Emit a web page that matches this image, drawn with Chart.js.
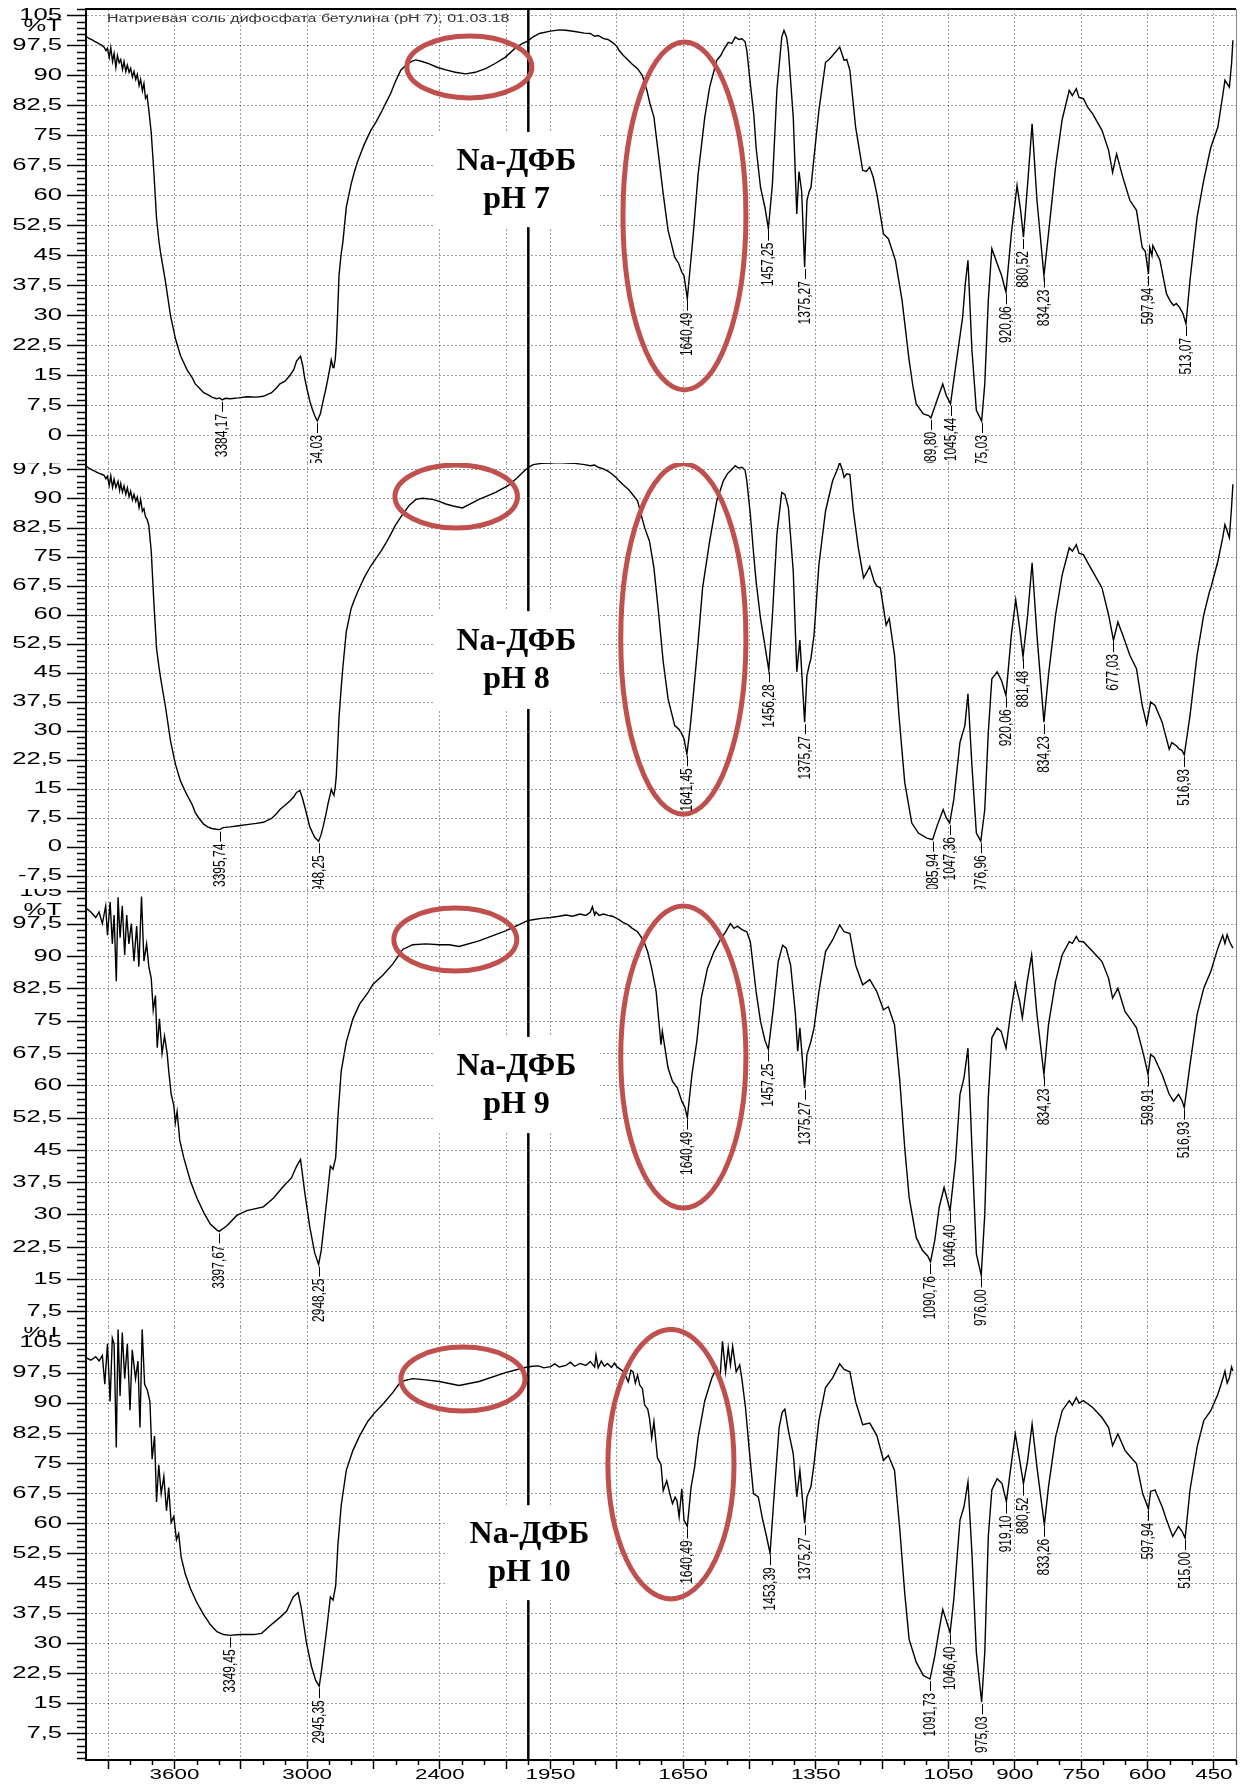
<!DOCTYPE html>
<html>
<head>
<meta charset="utf-8">
<script src="https://cdn.jsdelivr.net/npm/chart.js@4.4.1/dist/chart.umd.min.js"></script>
<style>
  html, body { margin: 0; padding: 0; background: #fff; }
  #wrap { position: relative; width: 1248px; height: 1787px; overflow: hidden; background: #fff; }
  #wrap canvas { position: absolute; left: 0; }
</style>
</head>
<body>
<div id="wrap">
  <canvas id="ph7" width="1248" height="463" style="top:0px"></canvas>
  <canvas id="ph8" width="1248" height="426" style="top:463px"></canvas>
  <canvas id="ph9" width="1248" height="438" style="top:889px"></canvas>
  <canvas id="ph10" width="1248" height="460" style="top:1327px"></canvas>
</div>
<script>
// wavenumber (cm-1) / transmittance (%T)
const spectrumPH7 = [
  [3996,99.7],[3985,99.2],[3975,99.0],[3963,98.6],[3950,98.2],[3940,97.9],[3930,97.6],[3918,97.1],[3910,96.2],[3903,96.8],
  [3895,94.5],[3888,97.0],[3880,93.5],[3873,95.5],[3865,92.0],[3858,95.0],[3850,93.2],[3843,94.0],[3835,91.5],[3828,93.5],
  [3820,91.0],[3813,92.6],[3805,90.8],[3798,91.8],[3790,89.6],[3783,91.0],[3775,89.0],[3768,90.3],[3760,87.5],[3753,89.0],
  [3745,86.2],[3738,88.0],[3731,84.3],[3724,85.0],[3716,81.4],[3705,75.7],[3693,65.7],[3681,54.3],[3670,48.5],[3663,45.7],
  [3641,38.6],[3618,30.0],[3596,24.3],[3573,20.0],[3543,16.4],[3520,14.5],[3506,12.9],[3490,12.0],[3468,10.7],[3450,10.2],
  [3431,9.6],[3410,9.2],[3395,9.4],[3384.17,8.9],[3370,9.3],[3348,9.2],[3310,9.4],[3273,9.7],[3230,9.6],[3198,9.8],
  [3161,10.7],[3140,11.8],[3123,12.9],[3100,13.6],[3078,15.0],[3060,16.5],[3048,18.6],[3030,19.8],[3020,17.5],[3011,14.3],
  [2998,11.0],[2988,8.6],[2975,6.3],[2966,5.0],[2954.03,3.6],[2940,5.5],[2928,8.6],[2915,11.8],[2906,14.3],[2895,17.5],
  [2891,18.9],[2883,17.0],[2879,17.1],[2873,19.0],[2868,22.9],[2862,31.0],[2856,40.0],[2847,45.0],[2838,48.6],[2823,57.1],
  [2801,62.9],[2786,66.0],[2771,68.6],[2741,72.9],[2711,76.4],[2690,78.2],[2666,80.7],[2640,83.6],[2621,85.7],[2600,88.6],
  [2576,91.4],[2546,92.9],[2525,93.6],[2508,93.9],[2480,93.5],[2448,92.9],[2410,92.0],[2373,91.4],[2330,90.8],[2283,90.4],
  [2240,90.8],[2193,91.7],[2150,93.0],[2103,94.6],[2058,96.9],[2030,97.9],[2003,98.6],
  [1990,99.6],[1975,100.5],[1950,101.1],[1930,101.4],[1915,101.3],[1895,101.0],[1873,100.6],[1860,100.5],[1850,99.8],[1842,100.0],
  [1830,99.2],[1820,99.0],[1810,98.3],[1800,97.3],[1795,96.3],[1785,95.0],[1774,93.8],[1765,92.8],[1753,91.7],[1742,90.0],
  [1737,88.0],[1732,86.3],[1725,83.0],[1716,79.6],[1705,69.6],[1695,60.4],[1684,51.3],[1669,44.6],[1660,43.0],[1653,40.8],
  [1648,40.0],[1640.49,34.2],[1634,42.0],[1627,50.4],[1616,65.4],[1601,79.6],[1590,87.1],[1574,93.8],[1565,95.0],[1559,96.3],
  [1548,98.3],[1540,98.0],[1532,99.6],[1524,99.0],[1517,99.2],[1510,98.5],[1506,96.3],[1498,87.9],[1490,80.0],[1485,72.0],
  [1475,62.0],[1465,57.0],[1457.25,51.7],[1448,63.0],[1438,86.3],[1427,99.6],[1422,101.3],[1416,99.5],[1412,96.3],[1401,79.6],
  [1393,55.4],[1388,66.0],[1382,61.0],[1375.27,42.1],[1370,58.8],[1365,61.0],[1361,62.0],[1354,69.6],[1343,81.3],[1328,93.3],
  [1320,94.0],[1312,95.0],[1296,97.1],[1286,93.8],[1280,94.0],[1273,91.3],[1260,77.1],[1244,66.3],[1236,66.0],[1228,67.1],
  [1220,64.5],[1212,60.4],[1197,50.4],[1186,49.2],[1170,43.8],[1155,33.8],[1139,18.8],[1130,12.0],[1123,7.9],[1107,5.4],
  [1095,5.0],[1089.8,4.4],[1076,8.8],[1063,12.9],[1055,10.0],[1045.44,7.9],[1034,17.1],[1018,29.6],[1012,38.0],[1006,43.8],
  [997,21.3],[987,6.3],[975.03,3.6],[968,12.9],[960,33.8],[952,46.7],[940,43.0],[930,40.0],[920.06,35.8],[908,50.4],
  [895,62.5],[887,56.3],[880.52,49.6],[871,63.0],[861,77.9],[850,58.8],[834.23,40.0],[824,50.4],[808,67.1],[793,79.0],
  [777,86.3],[770,85.0],[761,86.7],[755,84.5],[745,84.2],[735,82.0],[724,80.4],[703,76.3],[688,71.3],[679,65.8],
  [670,70.4],[656,64.6],[640,58.8],[625,56.3],[612,47.0],[605,46.0],[597.94,40.4],[595,47.0],[590,45.0],[588,47.5],
  [572,43.8],[557,35.4],[548,33.5],[541,32.5],[535,33.0],[528,32.1],[520,30.5],[513.07,27.9],[504,38.8],[488,54.6],
  [473,63.8],[460,70.5],[457,72.0],[441,77.1],[430,85.0],[425,88.8],[415,87.1],[410,93.0],[407,98.8]
];
const spectrumPH8 = [
  [3996,98.4],[3985,97.9],[3975,97.6],[3963,97.3],[3950,96.9],[3940,96.6],[3930,96.4],[3918,96.1],[3910,95.2],[3903,95.9],
  [3895,93.5],[3888,96.0],[3880,93.0],[3873,95.1],[3865,93.0],[3855,94.6],[3848,92.2],[3843,94.0],[3835,91.8],[3828,93.4],
  [3820,91.2],[3813,92.9],[3805,90.6],[3798,92.0],[3790,89.8],[3783,91.2],[3775,89.4],[3768,90.5],[3760,87.8],[3753,89.9],
  [3745,86.8],[3738,87.5],[3731,85.4],[3724,84.8],[3716,83.2],[3705,76.5],[3693,63.2],[3681,51.3],[3670,46.5],[3663,43.8],
  [3641,36.4],[3618,27.5],[3596,21.5],[3573,17.1],[3543,13.4],[3520,11.0],[3506,8.9],[3490,7.5],[3468,5.9],[3450,5.2],
  [3431,4.8],[3410,4.6],[3395.74,4.5],[3380,5.0],[3348,5.2],[3310,5.5],[3273,5.8],[3230,6.1],[3198,6.4],[3161,7.4],
  [3140,8.5],[3123,9.7],[3100,10.8],[3078,11.9],[3060,13.0],[3048,14.1],[3033,14.6],[3022,12.8],[3011,10.4],[2998,7.5],
  [2988,5.2],[2975,3.6],[2966,2.5],[2948.25,1.5],[2938,3.0],[2928,5.2],[2915,8.5],[2906,11.1],[2895,13.8],[2891,14.9],
  [2883,13.8],[2879,13.4],[2873,15.5],[2868,18.6],[2862,26.0],[2856,33.4],[2847,40.5],[2838,46.8],[2823,55.7],[2801,61.7],
  [2786,64.0],[2771,66.1],[2741,69.8],[2711,72.8],[2690,74.5],[2666,76.5],[2640,79.0],[2621,81.0],[2600,83.3],[2576,85.4],
  [2538,88.4],[2508,89.9],[2478,90.2],[2433,89.9],[2400,89.3],[2373,88.7],[2340,88.2],[2298,87.7],[2260,88.8],[2223,89.9],
  [2185,90.8],[2148,91.7],[2110,92.9],[2088,93.6],[2050,95.5],[2020,97.2],[2003,98.0],
  [1995,98.5],[1989,98.9],[1970,99.2],[1950,99.3],[1930,99.4],[1915,99.3],[1895,99.2],[1873,98.9],[1860,98.6],[1850,98.8],
  [1842,98.2],[1830,97.8],[1820,97.2],[1810,96.4],[1800,95.4],[1795,94.7],[1785,93.6],[1774,92.5],[1765,91.3],[1753,89.5],
  [1745,86.0],[1737,82.6],[1726,79.1],[1716,72.2],[1705,60.0],[1695,47.9],[1684,38.3],[1669,31.4],[1660,30.5],[1655,29.7],
  [1648,28.0],[1641.45,24.0],[1634,31.0],[1627,39.2],[1616,53.1],[1606,67.0],[1590,79.1],[1574,89.5],[1559,94.7],[1550,96.5],
  [1543,97.3],[1532,98.6],[1525,98.0],[1517,98.2],[1510,97.5],[1506,94.7],[1498,86.0],[1490,75.0],[1485,68.7],[1475,59.1],
  [1465,52.0],[1456.28,45.7],[1448,60.0],[1438,80.8],[1427,91.7],[1420,91.2],[1412,87.8],[1401,71.3],[1393,45.3],[1386,53.5],
  [1375.27,32.3],[1370,44.4],[1365,47.0],[1361,48.7],[1354,54.8],[1343,73.0],[1328,86.9],[1312,94.7],[1300,98.0],[1296,99.5],
  [1290,97.5],[1286,95.6],[1280,96.5],[1273,96.3],[1265,86.9],[1254,77.4],[1242,69.6],[1235,71.0],[1228,72.6],[1218,68.7],
  [1212,67.5],[1204,67.0],[1191,57.4],[1184,59.1],[1172,49.6],[1162,34.0],[1149,16.7],[1133,6.2],[1118,3.6],[1099,2.3],
  [1085.94,1.9],[1076,5.4],[1062,9.7],[1055,7.5],[1047.36,6.2],[1038,12.3],[1024,27.1],[1013,31.4],[1006,39.6],[997,21.0],
  [987,3.6],[976.96,1.5],[968,9.7],[960,29.7],[952,43.5],[945,44.5],[940,45.3],[930,43.0],[920.06,39.2],[908,54.8],
  [898,63.9],[889,56.5],[881.48,49.2],[871,60.0],[861,73.5],[850,54.8],[834.23,32.3],[824,44.4],[808,60.0],[793,70.4],
  [777,77.4],[770,76.5],[761,78.2],[755,76.0],[745,75.6],[735,73.5],[724,71.3],[703,67.0],[688,60.0],[677.03,53.5],
  [667,58.2],[660,56.0],[656,54.8],[640,49.6],[625,46.1],[612,36.6],[602,31.8],[593,37.5],[583,36.6],[567,32.3],
  [551,25.3],[545,27.0],[535,26.2],[528,25.3],[522,25.0],[516.93,23.8],[504,34.0],[488,49.6],[473,60.0],[460,66.0],
  [457,67.0],[441,73.9],[430,80.0],[425,83.4],[415,80.0],[410,88.0],[407,93.8]
];
const spectrumPH9 = [
  [3996,101.0],[3978,100.3],[3956,99.0],[3941,100.3],[3926,97.6],[3911,101.7],[3903,94.9],[3891,102.6],[3881,92.9],[3873,99.6],
  [3863,84.2],[3855,103.7],[3846,94.3],[3836,101.7],[3825,90.3],[3816,99.6],[3806,92.9],[3795,97.6],[3783,88.9],[3771,97.0],
  [3761,87.6],[3749,103.9],[3738,88.9],[3726,92.9],[3716,87.6],[3705,84.9],[3696,77.5],[3686,80.9],[3678,68.8],[3668,75.5],
  [3656,67.5],[3645,71.5],[3633,67.5],[3626,63.4],[3615,58.1],[3603,55.4],[3596,51.4],[3588,54.0],[3576,47.3],[3558,43.3],
  [3528,37.9],[3498,33.9],[3468,30.6],[3438,27.9],[3408,26.5],[3397.67,26.2],[3363,27.5],[3318,29.9],[3273,31.0],[3198,31.9],
  [3153,33.9],[3108,36.6],[3071,38.6],[3048,41.3],[3030,42.9],[3011,35.3],[2988,27.2],[2966,21.2],[2948.25,18.5],[2936,21.9],
  [2913,32.6],[2895,41.3],[2883,40.6],[2871,43.3],[2861,52.7],[2846,63.4],[2823,70.1],[2793,75.5],[2763,78.9],[2726,81.5],
  [2703,83.5],[2658,85.6],[2613,88.2],[2568,91.6],[2523,92.7],[2463,92.9],[2403,92.7],[2358,92.7],[2313,92.3],[2223,93.6],
  [2103,95.9],[2003,98.3],
  [1990,98.5],[1970,98.8],[1950,99.0],[1930,99.3],[1915,99.6],[1900,99.3],[1883,99.8],[1870,99.5],[1860,100.2],[1855,101.5],
  [1850,99.6],[1847,100.3],[1840,99.5],[1830,99.8],[1820,99.5],[1810,99.3],[1795,98.5],[1785,97.8],[1774,97.3],[1765,96.5],
  [1753,95.7],[1745,94.5],[1737,93.0],[1730,91.0],[1721,87.2],[1711,81.8],[1700,69.5],[1697,72.6],[1684,64.1],[1674,61.0],
  [1663,59.5],[1653,56.4],[1646,55.0],[1640.49,52.6],[1630,62.6],[1619,70.3],[1609,80.3],[1595,87.2],[1580,91.1],[1564,94.2],
  [1555,95.5],[1543,97.6],[1535,96.5],[1527,97.0],[1517,96.2],[1506,95.7],[1498,93.4],[1485,81.8],[1475,74.9],[1465,70.5],
  [1457.25,68.4],[1446,78.0],[1435,88.8],[1425,92.6],[1417,91.9],[1407,88.0],[1396,76.5],[1391,68.0],[1386,73.4],[1375.27,59.5],
  [1370,67.2],[1361,70.3],[1354,73.4],[1343,81.8],[1328,91.1],[1312,93.8],[1296,97.3],[1286,95.7],[1273,95.3],[1260,88.0],
  [1244,83.4],[1228,84.6],[1212,81.8],[1197,77.6],[1186,78.3],[1172,74.1],[1160,61.0],[1149,45.6],[1139,34.1],[1123,24.8],
  [1109,21.8],[1097,20.5],[1090.76,19.1],[1081,24.1],[1071,31.8],[1060,36.4],[1046.4,31.0],[1034,42.6],[1024,58.0],[1015,61.8],
  [1006,68.7],[997,45.6],[987,21.0],[976.0,16.0],[968,30.2],[960,57.2],[952,71.1],[940,73.4],[931,72.6],[920,68.7],
  [910,76.5],[899,83.8],[889,79.5],[883,75.7],[872,84.2],[862,90.3],[850,76.5],[834.23,62.6],[824,74.1],[808,84.2],
  [793,90.3],[777,93.4],[770,93.0],[761,94.6],[755,93.5],[745,93.4],[724,91.1],[703,88.8],[688,84.9],[679,80.3],
  [667,82.6],[651,77.2],[635,74.9],[625,73.4],[609,67.2],[598.91,62.6],[593,67.2],[585,66.6],[567,62.6],[551,58.0],
  [541,56.4],[530,58.0],[522,56.5],[516.93,54.9],[504,64.9],[488,76.5],[473,82.6],[457,86.5],[441,91.9],[430,94.9],
  [425,93.0],[420,95.0],[415,93.5],[407,91.9]
];
const spectrumPH10 = [
  [3996,101.2],[3978,100.7],[3956,101.6],[3941,100.5],[3926,101.9],[3915,94.7],[3903,104.8],[3891,90.4],[3881,106.2],[3873,104.8],
  [3863,78.9],[3855,108.4],[3846,91.8],[3836,107.6],[3825,96.1],[3813,104.8],[3801,88.2],[3791,103.3],[3776,96.1],[3765,100.5],
  [3756,83.9],[3746,108.4],[3735,94.7],[3723,93.3],[3711,90.4],[3701,76.0],[3690,81.8],[3681,65.3],[3671,74.6],[3660,67.4],
  [3648,71.7],[3636,63.1],[3626,68.9],[3615,60.2],[3603,61.7],[3591,55.9],[3581,57.4],[3570,51.6],[3551,47.3],[3528,43.7],
  [3498,40.1],[3468,37.2],[3438,34.7],[3408,32.9],[3378,32.2],[3349.45,32.0],[3303,32.2],[3243,32.2],[3206,32.5],[3168,34.4],
  [3123,36.5],[3093,38.0],[3063,41.6],[3041,42.7],[3026,38.7],[3003,30.1],[2981,24.3],[2961,20.7],[2945.35,19.3],[2936,22.9],
  [2913,32.9],[2895,41.6],[2883,40.8],[2871,44.4],[2861,54.5],[2846,64.5],[2823,73.2],[2793,78.2],[2763,81.8],[2726,85.4],
  [2696,87.5],[2658,89.7],[2613,92.6],[2576,95.4],[2523,96.1],[2463,95.8],[2403,95.4],[2313,94.4],[2223,95.4],[2103,97.6],
  [2028,98.7],[2003,99.0],
  [1990,99.2],[1977,99.3],[1965,98.8],[1950,99.1],[1940,99.8],[1930,99.0],[1915,99.4],[1905,100.2],[1895,99.2],[1883,99.9],
  [1870,99.4],[1860,100.4],[1850,99.0],[1847,102.0],[1842,98.8],[1835,100.5],[1828,99.2],[1821,99.9],[1812,98.9],[1805,100.0],
  [1800,99.1],[1790,98.3],[1784,97.8],[1774,95.3],[1768,98.2],[1763,97.8],[1758,95.0],[1753,97.0],[1748,94.5],[1742,93.6],
  [1737,89.5],[1730,88.5],[1726,86.2],[1721,81.3],[1716,85.4],[1708,76.3],[1700,74.7],[1695,68.1],[1687,70.6],[1680,67.3],
  [1674,64.9],[1668,66.5],[1664,65.7],[1659,61.6],[1653,68.6],[1648,60.8],[1640.49,59.2],[1632,69.0],[1624,74.0],[1616,81.5],
  [1601,90.6],[1585,96.3],[1574,98.8],[1567,95.6],[1561,105.4],[1554,97.8],[1548,103.8],[1543,99.5],[1538,104.2],[1530,97.8],
  [1522,99.5],[1517,95.9],[1509,88.9],[1501,79.0],[1491,67.4],[1480,66.6],[1470,60.8],[1462,57.0],[1453.39,52.5],[1443,69.0],
  [1433,83.9],[1426,87.7],[1420,88.5],[1412,83.1],[1401,77.3],[1393,66.6],[1386,73.2],[1375.27,60.0],[1370,66.6],[1361,69.1],
  [1354,74.9],[1343,85.6],[1328,93.9],[1312,96.3],[1296,99.8],[1286,98.4],[1273,97.8],[1260,90.4],[1244,84.6],[1228,85.0],
  [1212,81.9],[1197,75.7],[1186,76.9],[1172,73.2],[1160,58.3],[1149,42.6],[1139,31.0],[1123,25.3],[1107,22.0],[1091.73,21.1],
  [1081,26.9],[1071,33.5],[1063,38.5],[1046.4,32.7],[1038,41.0],[1024,60.8],[1015,64.1],[1006,70.3],[997,52.5],[987,27.7],
  [975.03,15.3],[968,27.7],[960,56.7],[952,68.3],[940,71.1],[929,69.9],[919.1,65.4],[910,73.2],[899,82.3],[889,75.7],
  [880.52,69.9],[871,75.7],[861,84.8],[850,74.0],[833.26,59.6],[824,69.0],[808,81.5],[793,88.1],[777,90.6],[770,89.5],
  [761,91.4],[755,90.0],[745,90.6],[724,88.9],[703,86.4],[688,83.9],[679,79.4],[667,82.3],[651,78.2],[635,76.1],
  [625,74.9],[611,67.4],[597.94,63.6],[593,68.0],[583,68.3],[567,64.1],[557,60.8],[543,56.7],[530,59.2],[522,58.0],
  [515.0,56.3],[504,68.3],[488,79.0],[473,85.6],[457,88.1],[441,92.2],[430,96.0],[425,98.0],[420,95.0],[415,96.3],
  [410,99.0],[407,98.0]
];

// labelled absorption maxima, cm-1
const peaksPH7 = [3384.17, 2954.03, 1640.49, 1457.25, 1375.27, 1089.80, 1045.44, 975.03, 920.06, 880.52, 834.23, 597.94, 513.07];
const peaksPH8 = [3395.74, 2948.25, 1641.45, 1456.28, 1375.27, 1085.94, 1047.36, 976.96, 920.06, 881.48, 834.23, 677.03, 516.93];
const peaksPH9 = [3397.67, 2948.25, 1640.49, 1457.25, 1375.27, 1090.76, 1046.40, 976.00, 834.23, 598.91, 516.93];
const peaksPH10 = [3349.45, 2945.35, 1640.49, 1453.39, 1375.27, 1091.73, 1046.40, 975.03, 919.10, 880.52, 833.26, 597.94, 515.00];

// axes
const xGridValues = [3900, 3600, 3300, 3000, 2700, 2400, 2100, 1950, 1800, 1650, 1500, 1350, 1200, 1050, 900, 750, 600, 450];
const xTickLabels = [3600, 3000, 2400, 1950, 1650, 1350, 1050, 900, 750, 600, 450];
const yTickValues = [-7.5, 0, 7.5, 15, 22.5, 30, 37.5, 45, 52.5, 60, 67.5, 75, 82.5, 90, 97.5, 105];
const sampleTitle = 'Натриевая соль дифосфата бетулина (pH 7), 01.03.18';
const sampleNames = ['Na-ДФБ', 'Na-ДФБ', 'Na-ДФБ', 'Na-ДФБ'];
const sampleLabels = ['pH 7', 'pH 8', 'pH 9', 'pH 10'];

// regions circled in red: [wn left, wn right, %T top, %T bottom]
const ellipsesPH7 = [[2549, 1992, 99.9, 84.4], [1786, 1508, 98.4, 11.4]];
const ellipsesPH8 = [[2603, 2049, 98.8, 82.5], [1791, 1508, 99.1, 8.5]];
const ellipsesPH9 = [[2608, 2052, 101.2, 86.6], [1791, 1508, 101.7, 31.6]];
const ellipsesPH10 = [[2576, 2015, 104.0, 88.0], [1820, 1535, 108.4, 41.1]];

const WN_MAX = 4000, WN_BREAK = 2000, WN_MIN = 400;
const STRETCH = 1.6;
const SANS = "'Liberation Sans', Arial, sans-serif";
const GRID = 'rgba(0,0,0,0.38)';

// IR x axis: 4000-2000 and 2000-400 with doubled scale below 2000
class BrokenWaveScale extends Chart.LinearScale {
  static id = 'brokenWave';
  static defaults = Chart.LinearScale.defaults;
  breakPixel() {
    const hi = WN_MAX - WN_BREAK, lo = (WN_BREAK - WN_MIN) * 2;
    return this.left + (this.right - this.left) * hi / (hi + lo);
  }
  getPixelForValue(v) {
    const b = this.breakPixel();
    if (v >= WN_BREAK) return this.left + (WN_MAX - v) / (WN_MAX - WN_BREAK) * (b - this.left);
    return b + (WN_BREAK - v) / (WN_BREAK - WN_MIN) * (this.right - b);
  }
  getValueForPixel(p) {
    const b = this.breakPixel();
    if (p <= b) return WN_MAX - (p - this.left) / (b - this.left) * (WN_MAX - WN_BREAK);
    return WN_BREAK - (p - b) / (this.right - b) * (WN_BREAK - WN_MIN);
  }
}
Chart.register(BrokenWaveScale);

const fmt = v => String(v).replace('.', ',');

function nearestT(points, wn) {
  let best = points[0];
  for (const p of points) if (Math.abs(p[0] - wn) < Math.abs(best[0] - wn)) best = p;
  return best[1];
}

function stretchedText(ctx, text, x, y, font, align, angle, stretch) {
  ctx.save();
  ctx.translate(x, y);
  ctx.scale(stretch || STRETCH, 1);
  if (angle) ctx.rotate(angle);
  ctx.font = font;
  ctx.textAlign = align;
  ctx.textBaseline = 'middle';
  ctx.fillText(text, 0, 0);
  ctx.restore();
}

function decorations(p) {
  return {
    id: 'irDecor',
    beforeDatasetsDraw(chart) {
      const { ctx, chartArea: a, scales: { x, y } } = chart;
      ctx.save();
      ctx.strokeStyle = '#000';
      ctx.lineWidth = 1.5;
      ctx.beginPath();
      for (let k = Math.ceil(y.min / 1.5); k <= Math.floor(y.max / 1.5); k++) {
        if (k % 5 === 0) continue;
        const py = Math.round(y.getPixelForValue(k * 1.5)) + 0.5;
        ctx.moveTo(a.left - 9, py);
        ctx.lineTo(a.left, py);
      }
      ctx.stroke();
      const bx = x.getPixelForValue(WN_BREAK);
      ctx.lineWidth = 2.5;
      ctx.beginPath();
      ctx.moveTo(bx, a.top);
      ctx.lineTo(bx, a.bottom);
      ctx.stroke();
      ctx.strokeStyle = '#888';
      ctx.lineWidth = 1;
      ctx.beginPath();
      ctx.moveTo(a.right + 0.5, a.top);
      ctx.lineTo(a.right + 0.5, a.bottom);
      ctx.stroke();
      ctx.restore();
    },
    afterDatasetsDraw(chart) {
      const { ctx, chartArea: a, scales: { x, y } } = chart;
      ctx.save();
      // sample caption on white box
      const bx1 = x.getPixelForValue(p.box[0]), bx2 = x.getPixelForValue(p.box[1]);
      const by1 = y.getPixelForValue(p.box[2]), by2 = y.getPixelForValue(p.box[3]);
      ctx.fillStyle = '#fff';
      ctx.fillRect(bx1, by1, bx2 - bx1, by2 - by1);
      const cx = (bx1 + bx2) / 2, cy = (by1 + by2) / 2;
      ctx.fillStyle = '#000';
      ctx.font = "bold 32px 'Liberation Serif', 'Times New Roman', serif";
      ctx.textAlign = 'center';
      ctx.textBaseline = 'middle';
      ctx.fillText(p.name, cx, cy - 18);
      ctx.fillText(p.label, cx, cy + 20);

      // red ellipses
      ctx.strokeStyle = '#c0504d';
      ctx.lineWidth = 5;
      for (const e of p.ellipses) {
        const ex1 = x.getPixelForValue(e[0]), ex2 = x.getPixelForValue(e[1]);
        const ey1 = y.getPixelForValue(e[2]), ey2 = y.getPixelForValue(e[3]);
        ctx.beginPath();
        ctx.ellipse((ex1 + ex2) / 2, (ey1 + ey2) / 2, (ex2 - ex1) / 2, (ey2 - ey1) / 2, 0, 0, Math.PI * 2);
        ctx.stroke();
      }

      // peak labels
      ctx.strokeStyle = '#000';
      ctx.fillStyle = '#000';
      ctx.lineWidth = 1;
      for (const wn of p.peaks) {
        const px = Math.round(x.getPixelForValue(wn)) + 0.5;
        const py = y.getPixelForValue(nearestT(p.points, wn));
        ctx.beginPath();
        ctx.moveTo(px, py + 2);
        ctx.lineTo(px, py + 12);
        ctx.stroke();
        stretchedText(ctx, wn.toFixed(2).replace('.', ','), px, py + 14, `12px ${SANS}`, 'right', -Math.PI / 2, 1.45);
      }

      // y labels
      for (const v of yTickValues) {
        if (v < y.min || v > y.max) continue;
        stretchedText(ctx, fmt(v), a.left - 24, y.getPixelForValue(v), `16px ${SANS}`, 'right');
      }
      if (p.unitAt !== null) stretchedText(ctx, '%T', a.left - 24, y.getPixelForValue(p.unitAt), `16px ${SANS}`, 'right');

      if (p.title) {
        ctx.fillStyle = '#333';
        stretchedText(ctx, sampleTitle, 107, 19, `10px ${SANS}`, 'left');
        ctx.strokeStyle = '#000';
        ctx.lineWidth = 2;
        ctx.beginPath();
        ctx.moveTo(a.left, a.top);
        ctx.lineTo(a.right, a.top);
        ctx.stroke();
      }

      if (p.xAxis) {
        ctx.strokeStyle = '#000';
        ctx.lineWidth = 1.5;
        ctx.beginPath();
        const minor = [];
        for (let w = 3900; w >= 2000; w -= 100) minor.push(w);
        for (let w = 2000; w >= 400; w -= 50) minor.push(w);
        for (const w of minor) {
          if (xGridValues.includes(w)) continue;
          const px = Math.round(x.getPixelForValue(w)) + 0.5;
          ctx.moveTo(px, a.bottom);
          ctx.lineTo(px, a.bottom + 5);
        }
        ctx.stroke();
        ctx.fillStyle = '#000';
        for (const v of xTickLabels) {
          stretchedText(ctx, String(v), x.getPixelForValue(v), a.bottom + 15, `14px ${SANS}`, 'center');
        }
      }
      ctx.restore();
    }
  };
}

function makePanel(id, p) {
  return new Chart(document.getElementById(id), {
    type: 'line',
    data: {
      datasets: [{
        data: p.points.map(q => ({ x: q[0], y: q[1] })),
        borderColor: '#000',
        borderWidth: 1.4,
        pointRadius: 0,
        tension: 0
      }]
    },
    options: {
      responsive: false,
      animation: false,
      events: [],
      layout: { padding: { top: p.padTop, right: 12, left: 0, bottom: 0 } },
      plugins: { legend: { display: false }, tooltip: { enabled: false } },
      scales: {
        x: {
          type: 'brokenWave',
          min: WN_MIN,
          max: WN_MAX,
          afterBuildTicks: s => { s.ticks = xGridValues.map(v => ({ value: v })); },
          afterFit: s => { s.height = p.xAxis ? 27 : 0; },
          ticks: { display: false, autoSkip: false },
          grid: { color: GRID, drawTicks: p.xAxis, tickLength: 9, tickColor: '#000', tickWidth: 1.5 },
          border: { display: p.xAxis, color: '#000', width: 2, dash: [2, 2] }
        },
        y: {
          min: p.yMin,
          max: p.yMax,
          afterBuildTicks: s => { s.ticks = yTickValues.filter(v => v >= p.yMin && v <= p.yMax).map(v => ({ value: v })); },
          afterFit: s => { s.width = 86; },
          ticks: { display: false },
          grid: { color: GRID, tickLength: 19, tickColor: '#000', tickWidth: 1.5 },
          border: { display: true, color: '#000', width: 2, dash: [2, 2] }
        }
      }
    },
    plugins: [decorations(p)]
  });
}

makePanel('ph7', {
  points: spectrumPH7, peaks: peaksPH7, ellipses: ellipsesPH7, name: sampleNames[0], label: sampleLabels[0],
  yMin: -6.875, yMax: 106.625, padTop: 9, box: [2431, 1838, 75.9, 52.1], unitAt: 102.3, title: true, xAxis: false
});
makePanel('ph8', {
  points: spectrumPH8, peaks: peaksPH8, ellipses: ellipsesPH8, name: sampleNames[1], label: sampleLabels[1],
  yMin: -10.86, yMax: 99.31, padTop: 0, box: [2431, 1838, 61.0, 35.7], unitAt: null, title: false, xAxis: false
});
makePanel('ph9', {
  points: spectrumPH9, peaks: peaksPH9, ellipses: ellipsesPH9, name: sampleNames[2], label: sampleLabels[2],
  yMin: 4.02, yMax: 105.62, padTop: 0, box: [2431, 1838, 71.3, 49.0], unitAt: 100.5, title: false, xAxis: false
});
makePanel('ph10', {
  points: spectrumPH10, peaks: peaksPH10, ellipses: ellipsesPH10, name: sampleNames[3], label: sampleLabels[3],
  yMin: 0.88, yMax: 109.0, padTop: 0, box: [2377, 1806, 64.5, 40.8], unitAt: 107.6, title: false, xAxis: true
});
</script>
</body>
</html>
